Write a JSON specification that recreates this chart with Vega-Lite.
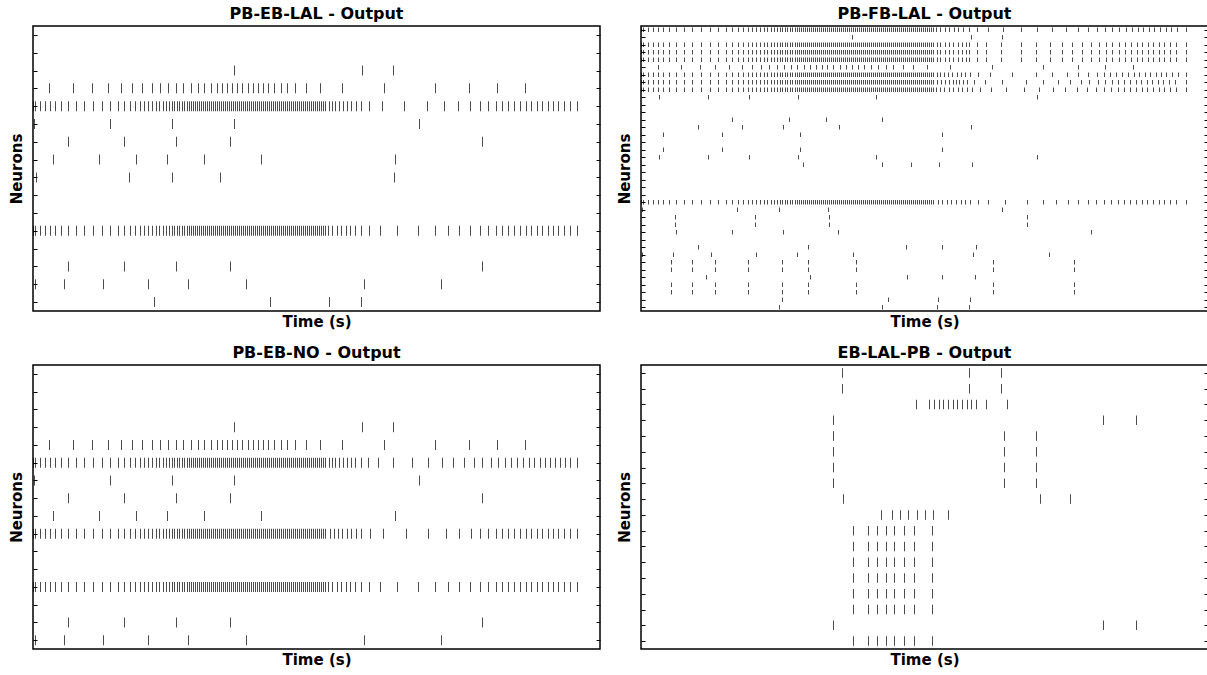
{"$schema":"https://vega.github.io/schema/vega-lite/v6.json","background":"white","padding":{"left":8,"top":5,"right":0,"bottom":0},"columns":2,"spacing":{"column":14,"row":14},
"config":{"view":{"stroke":"#000","strokeWidth":1.5},"font":"DejaVu Sans","title":{"fontSize":16,"fontWeight":"bold","font":"DejaVu Sans","color":"#000","offset":4},"axis":{"titleFont":"DejaVu Sans","titleFontSize":15,"titleFontWeight":"bold","titleColor":"#000","labels":false,"grid":false,"domain":false},"tick":{"color":"#000","thickness":1}},
"datasets":{
"tl":[{"n":2,"t":201},{"n":2,"t":329},{"n":2,"t":360},
{"n":3,"t":16},{"n":3,"t":40},{"n":3,"t":59},{"n":3,"t":75},{"n":3,"t":88},{"n":3,"t":99},{"n":3,"t":109},{"n":3,"t":119},{"n":3,"t":127},{"n":3,"t":135},{"n":3,"t":143},{"n":3,"t":150},{"n":3,"t":158},{"n":3,"t":165},{"n":3,"t":171},{"n":3,"t":178},{"n":3,"t":184},{"n":3,"t":189},{"n":3,"t":194},{"n":3,"t":199},{"n":3,"t":204},{"n":3,"t":209},{"n":3,"t":215},{"n":3,"t":220},{"n":3,"t":225},{"n":3,"t":230},{"n":3,"t":235},{"n":3,"t":241},{"n":3,"t":248},{"n":3,"t":254},{"n":3,"t":262},{"n":3,"t":273},{"n":3,"t":287},{"n":3,"t":309},{"n":3,"t":351},{"n":3,"t":402},{"n":3,"t":436},{"n":3,"t":464},{"n":3,"t":492},
{"n":4,"t":0},{"n":4,"t":2},{"n":4,"t":7},{"n":4,"t":12},{"n":4,"t":17},{"n":4,"t":22},{"n":4,"t":28},{"n":4,"t":35},{"n":4,"t":43},{"n":4,"t":51},{"n":4,"t":60},{"n":4,"t":69},{"n":4,"t":77},{"n":4,"t":85},{"n":4,"t":91},{"n":4,"t":97},{"n":4,"t":102},{"n":4,"t":107},{"n":4,"t":111},{"n":4,"t":115},{"n":4,"t":119},{"n":4,"t":123},{"n":4,"t":126},{"n":4,"t":130},{"n":4,"t":133},{"n":4,"t":136},{"n":4,"t":139},{"n":4,"t":141},{"n":4,"t":144},{"n":4,"t":146},{"n":4,"t":149},{"n":4,"t":151},{"n":4,"t":154},{"n":4,"t":156},{"n":4,"t":158},
{"n":4,"t":160},{"n":4,"t":162},{"n":4,"t":164},{"n":4,"t":166},{"n":4,"t":168},{"n":4,"t":170},{"n":4,"t":172},{"n":4,"t":174},{"n":4,"t":176},{"n":4,"t":178},{"n":4,"t":180},{"n":4,"t":182},{"n":4,"t":184},{"n":4,"t":186},{"n":4,"t":188},{"n":4,"t":190},{"n":4,"t":192},{"n":4,"t":194},{"n":4,"t":196},{"n":4,"t":198},{"n":4,"t":200},{"n":4,"t":202},{"n":4,"t":204},{"n":4,"t":206},{"n":4,"t":208},{"n":4,"t":210},{"n":4,"t":212},{"n":4,"t":214},{"n":4,"t":216},{"n":4,"t":218},{"n":4,"t":220},{"n":4,"t":222},{"n":4,"t":224},{"n":4,"t":226},{"n":4,"t":228},{"n":4,"t":230},{"n":4,"t":232},{"n":4,"t":234},{"n":4,"t":236},{"n":4,"t":238},{"n":4,"t":240},{"n":4,"t":242},{"n":4,"t":244},{"n":4,"t":246},{"n":4,"t":248},{"n":4,"t":250},{"n":4,"t":252},{"n":4,"t":254},{"n":4,"t":256},{"n":4,"t":258},{"n":4,"t":260},{"n":4,"t":262},{"n":4,"t":264},{"n":4,"t":266},{"n":4,"t":268},{"n":4,"t":270},{"n":4,"t":272},{"n":4,"t":274},{"n":4,"t":276},{"n":4,"t":278},{"n":4,"t":280},{"n":4,"t":282},{"n":4,"t":284},{"n":4,"t":286},{"n":4,"t":288},{"n":4,"t":290},{"n":4,"t":292},
{"n":4,"t":296},{"n":4,"t":299},{"n":4,"t":302},{"n":4,"t":306},{"n":4,"t":310},{"n":4,"t":314},{"n":4,"t":318},{"n":4,"t":323},{"n":4,"t":328},{"n":4,"t":336},{"n":4,"t":349},{"n":4,"t":371},{"n":4,"t":394},{"n":4,"t":411},{"n":4,"t":425},{"n":4,"t":437},{"n":4,"t":447},{"n":4,"t":455},{"n":4,"t":463},{"n":4,"t":469},{"n":4,"t":475},{"n":4,"t":481},{"n":4,"t":487},{"n":4,"t":493},{"n":4,"t":498},{"n":4,"t":504},{"n":4,"t":509},{"n":4,"t":515},{"n":4,"t":520},{"n":4,"t":525},{"n":4,"t":531},{"n":4,"t":537},{"n":4,"t":544},
{"n":5,"t":1},{"n":5,"t":77},{"n":5,"t":139},{"n":5,"t":201},{"n":5,"t":386},
{"n":6,"t":35},{"n":6,"t":91},{"n":6,"t":143},{"n":6,"t":197},{"n":6,"t":449},
{"n":7,"t":20},{"n":7,"t":66},{"n":7,"t":103},{"n":7,"t":134},{"n":7,"t":171},{"n":7,"t":228},{"n":7,"t":362},
{"n":8,"t":3},{"n":8,"t":96},{"n":8,"t":139},{"n":8,"t":187},{"n":8,"t":361},
{"n":11,"t":0},{"n":11,"t":2},{"n":11,"t":7},{"n":11,"t":12},{"n":11,"t":17},{"n":11,"t":22},{"n":11,"t":28},{"n":11,"t":35},{"n":11,"t":43},{"n":11,"t":51},{"n":11,"t":60},{"n":11,"t":69},{"n":11,"t":77},{"n":11,"t":85},{"n":11,"t":91},{"n":11,"t":97},{"n":11,"t":102},{"n":11,"t":107},{"n":11,"t":111},{"n":11,"t":115},{"n":11,"t":119},{"n":11,"t":123},{"n":11,"t":126},{"n":11,"t":130},{"n":11,"t":133},{"n":11,"t":136},{"n":11,"t":139},{"n":11,"t":141},{"n":11,"t":144},{"n":11,"t":146},{"n":11,"t":149},{"n":11,"t":151},{"n":11,"t":154},{"n":11,"t":156},{"n":11,"t":158},
{"n":11,"t":160},{"n":11,"t":162},{"n":11,"t":164},{"n":11,"t":166},{"n":11,"t":168},{"n":11,"t":170},{"n":11,"t":172},{"n":11,"t":174},{"n":11,"t":176},{"n":11,"t":178},{"n":11,"t":180},{"n":11,"t":182},{"n":11,"t":184},{"n":11,"t":186},{"n":11,"t":188},{"n":11,"t":190},{"n":11,"t":192},{"n":11,"t":194},{"n":11,"t":196},{"n":11,"t":198},{"n":11,"t":200},{"n":11,"t":202},{"n":11,"t":204},{"n":11,"t":206},{"n":11,"t":208},{"n":11,"t":210},{"n":11,"t":212},{"n":11,"t":214},{"n":11,"t":216},{"n":11,"t":218},{"n":11,"t":220},{"n":11,"t":222},{"n":11,"t":224},{"n":11,"t":226},{"n":11,"t":228},{"n":11,"t":230},{"n":11,"t":232},{"n":11,"t":234},{"n":11,"t":236},{"n":11,"t":238},{"n":11,"t":240},{"n":11,"t":242},{"n":11,"t":244},{"n":11,"t":246},{"n":11,"t":248},{"n":11,"t":250},{"n":11,"t":252},{"n":11,"t":254},{"n":11,"t":256},{"n":11,"t":258},{"n":11,"t":260},{"n":11,"t":262},{"n":11,"t":264},{"n":11,"t":266},{"n":11,"t":268},{"n":11,"t":270},{"n":11,"t":272},{"n":11,"t":274},{"n":11,"t":276},{"n":11,"t":278},{"n":11,"t":280},{"n":11,"t":282},{"n":11,"t":284},{"n":11,"t":286},{"n":11,"t":288},{"n":11,"t":290},{"n":11,"t":292},
{"n":11,"t":295},{"n":11,"t":299},{"n":11,"t":304},{"n":11,"t":308},{"n":11,"t":313},{"n":11,"t":317},{"n":11,"t":322},{"n":11,"t":328},{"n":11,"t":336},{"n":11,"t":347},{"n":11,"t":364},{"n":11,"t":385},{"n":11,"t":402},{"n":11,"t":415},{"n":11,"t":426},{"n":11,"t":437},{"n":11,"t":447},{"n":11,"t":455},{"n":11,"t":463},{"n":11,"t":469},{"n":11,"t":475},{"n":11,"t":481},{"n":11,"t":487},{"n":11,"t":493},{"n":11,"t":498},{"n":11,"t":504},{"n":11,"t":509},{"n":11,"t":515},{"n":11,"t":520},{"n":11,"t":525},{"n":11,"t":531},{"n":11,"t":537},{"n":11,"t":544},
{"n":13,"t":35},{"n":13,"t":91},{"n":13,"t":143},{"n":13,"t":197},{"n":13,"t":449},
{"n":14,"t":2},{"n":14,"t":31},{"n":14,"t":70},{"n":14,"t":115},{"n":14,"t":155},{"n":14,"t":213},{"n":14,"t":331},{"n":14,"t":408},
{"n":15,"t":121},{"n":15,"t":237},{"n":15,"t":296},{"n":15,"t":328}],
"bl":[{"n":3,"t":201},{"n":3,"t":329},{"n":3,"t":360},
{"n":4,"t":16},{"n":4,"t":40},{"n":4,"t":59},{"n":4,"t":75},{"n":4,"t":88},{"n":4,"t":99},{"n":4,"t":109},{"n":4,"t":119},{"n":4,"t":127},{"n":4,"t":135},{"n":4,"t":143},{"n":4,"t":150},{"n":4,"t":158},{"n":4,"t":165},{"n":4,"t":171},{"n":4,"t":178},{"n":4,"t":184},{"n":4,"t":189},{"n":4,"t":194},{"n":4,"t":199},{"n":4,"t":204},{"n":4,"t":209},{"n":4,"t":215},{"n":4,"t":220},{"n":4,"t":225},{"n":4,"t":230},{"n":4,"t":235},{"n":4,"t":241},{"n":4,"t":248},{"n":4,"t":254},{"n":4,"t":262},{"n":4,"t":273},{"n":4,"t":287},{"n":4,"t":309},{"n":4,"t":351},{"n":4,"t":402},{"n":4,"t":436},{"n":4,"t":464},{"n":4,"t":492},
{"n":5,"t":0},{"n":5,"t":2},{"n":5,"t":7},{"n":5,"t":12},{"n":5,"t":17},{"n":5,"t":22},{"n":5,"t":28},{"n":5,"t":35},{"n":5,"t":43},{"n":5,"t":51},{"n":5,"t":60},{"n":5,"t":69},{"n":5,"t":77},{"n":5,"t":85},{"n":5,"t":91},{"n":5,"t":97},{"n":5,"t":102},{"n":5,"t":107},{"n":5,"t":111},{"n":5,"t":115},{"n":5,"t":119},{"n":5,"t":123},{"n":5,"t":126},{"n":5,"t":130},{"n":5,"t":133},{"n":5,"t":136},{"n":5,"t":139},{"n":5,"t":141},{"n":5,"t":144},{"n":5,"t":146},{"n":5,"t":149},{"n":5,"t":151},{"n":5,"t":154},{"n":5,"t":156},{"n":5,"t":158},
{"n":5,"t":160},{"n":5,"t":162},{"n":5,"t":164},{"n":5,"t":166},{"n":5,"t":168},{"n":5,"t":170},{"n":5,"t":172},{"n":5,"t":174},{"n":5,"t":176},{"n":5,"t":178},{"n":5,"t":180},{"n":5,"t":182},{"n":5,"t":184},{"n":5,"t":186},{"n":5,"t":188},{"n":5,"t":190},{"n":5,"t":192},{"n":5,"t":194},{"n":5,"t":196},{"n":5,"t":198},{"n":5,"t":200},{"n":5,"t":202},{"n":5,"t":204},{"n":5,"t":206},{"n":5,"t":208},{"n":5,"t":210},{"n":5,"t":212},{"n":5,"t":214},{"n":5,"t":216},{"n":5,"t":218},{"n":5,"t":220},{"n":5,"t":222},{"n":5,"t":224},{"n":5,"t":226},{"n":5,"t":228},{"n":5,"t":230},{"n":5,"t":232},{"n":5,"t":234},{"n":5,"t":236},{"n":5,"t":238},{"n":5,"t":240},{"n":5,"t":242},{"n":5,"t":244},{"n":5,"t":246},{"n":5,"t":248},{"n":5,"t":250},{"n":5,"t":252},{"n":5,"t":254},{"n":5,"t":256},{"n":5,"t":258},{"n":5,"t":260},{"n":5,"t":262},{"n":5,"t":264},{"n":5,"t":266},{"n":5,"t":268},{"n":5,"t":270},{"n":5,"t":272},{"n":5,"t":274},{"n":5,"t":276},{"n":5,"t":278},{"n":5,"t":280},{"n":5,"t":282},{"n":5,"t":284},{"n":5,"t":286},{"n":5,"t":288},{"n":5,"t":290},{"n":5,"t":292},
{"n":5,"t":296},{"n":5,"t":299},{"n":5,"t":302},{"n":5,"t":306},{"n":5,"t":310},{"n":5,"t":314},{"n":5,"t":318},{"n":5,"t":322},{"n":5,"t":328},{"n":5,"t":335},{"n":5,"t":345},{"n":5,"t":360},{"n":5,"t":379},{"n":5,"t":395},{"n":5,"t":409},{"n":5,"t":420},{"n":5,"t":431},{"n":5,"t":441},{"n":5,"t":449},{"n":5,"t":458},{"n":5,"t":465},{"n":5,"t":472},{"n":5,"t":478},{"n":5,"t":484},{"n":5,"t":490},{"n":5,"t":496},{"n":5,"t":501},{"n":5,"t":507},{"n":5,"t":512},{"n":5,"t":517},{"n":5,"t":522},{"n":5,"t":527},{"n":5,"t":532},{"n":5,"t":537},{"n":5,"t":544},
{"n":6,"t":1},{"n":6,"t":77},{"n":6,"t":139},{"n":6,"t":201},{"n":6,"t":386},
{"n":7,"t":35},{"n":7,"t":91},{"n":7,"t":143},{"n":7,"t":197},{"n":7,"t":449},
{"n":8,"t":20},{"n":8,"t":66},{"n":8,"t":103},{"n":8,"t":134},{"n":8,"t":171},{"n":8,"t":228},{"n":8,"t":362},
{"n":9,"t":0},{"n":9,"t":2},{"n":9,"t":7},{"n":9,"t":12},{"n":9,"t":17},{"n":9,"t":22},{"n":9,"t":28},{"n":9,"t":35},{"n":9,"t":43},{"n":9,"t":51},{"n":9,"t":60},{"n":9,"t":69},{"n":9,"t":77},{"n":9,"t":85},{"n":9,"t":91},{"n":9,"t":97},{"n":9,"t":102},{"n":9,"t":107},{"n":9,"t":111},{"n":9,"t":115},{"n":9,"t":119},{"n":9,"t":123},{"n":9,"t":126},{"n":9,"t":130},{"n":9,"t":133},{"n":9,"t":136},{"n":9,"t":139},{"n":9,"t":141},{"n":9,"t":144},{"n":9,"t":146},{"n":9,"t":149},{"n":9,"t":151},{"n":9,"t":154},{"n":9,"t":156},{"n":9,"t":158},
{"n":9,"t":160},{"n":9,"t":162},{"n":9,"t":164},{"n":9,"t":166},{"n":9,"t":168},{"n":9,"t":170},{"n":9,"t":172},{"n":9,"t":174},{"n":9,"t":176},{"n":9,"t":178},{"n":9,"t":180},{"n":9,"t":182},{"n":9,"t":184},{"n":9,"t":186},{"n":9,"t":188},{"n":9,"t":190},{"n":9,"t":192},{"n":9,"t":194},{"n":9,"t":196},{"n":9,"t":198},{"n":9,"t":200},{"n":9,"t":202},{"n":9,"t":204},{"n":9,"t":206},{"n":9,"t":208},{"n":9,"t":210},{"n":9,"t":212},{"n":9,"t":214},{"n":9,"t":216},{"n":9,"t":218},{"n":9,"t":220},{"n":9,"t":222},{"n":9,"t":224},{"n":9,"t":226},{"n":9,"t":228},{"n":9,"t":230},{"n":9,"t":232},{"n":9,"t":234},{"n":9,"t":236},{"n":9,"t":238},{"n":9,"t":240},{"n":9,"t":242},{"n":9,"t":244},{"n":9,"t":246},{"n":9,"t":248},{"n":9,"t":250},{"n":9,"t":252},{"n":9,"t":254},{"n":9,"t":256},{"n":9,"t":258},{"n":9,"t":260},{"n":9,"t":262},{"n":9,"t":264},{"n":9,"t":266},{"n":9,"t":268},{"n":9,"t":270},{"n":9,"t":272},{"n":9,"t":274},{"n":9,"t":276},{"n":9,"t":278},{"n":9,"t":280},{"n":9,"t":282},{"n":9,"t":284},{"n":9,"t":286},{"n":9,"t":288},{"n":9,"t":290},{"n":9,"t":292},
{"n":9,"t":297},{"n":9,"t":301},{"n":9,"t":305},{"n":9,"t":309},{"n":9,"t":314},{"n":9,"t":318},{"n":9,"t":323},{"n":9,"t":328},{"n":9,"t":337},{"n":9,"t":350},{"n":9,"t":373},{"n":9,"t":395},{"n":9,"t":413},{"n":9,"t":426},{"n":9,"t":438},{"n":9,"t":447},{"n":9,"t":455},{"n":9,"t":463},{"n":9,"t":469},{"n":9,"t":475},{"n":9,"t":481},{"n":9,"t":487},{"n":9,"t":493},{"n":9,"t":498},{"n":9,"t":504},{"n":9,"t":509},{"n":9,"t":515},{"n":9,"t":520},{"n":9,"t":525},{"n":9,"t":531},{"n":9,"t":537},{"n":9,"t":544},
{"n":12,"t":0},{"n":12,"t":2},{"n":12,"t":7},{"n":12,"t":12},{"n":12,"t":17},{"n":12,"t":22},{"n":12,"t":28},{"n":12,"t":35},{"n":12,"t":43},{"n":12,"t":51},{"n":12,"t":60},{"n":12,"t":69},{"n":12,"t":77},{"n":12,"t":85},{"n":12,"t":91},{"n":12,"t":97},{"n":12,"t":102},{"n":12,"t":107},{"n":12,"t":111},{"n":12,"t":115},{"n":12,"t":119},{"n":12,"t":123},{"n":12,"t":126},{"n":12,"t":130},{"n":12,"t":133},{"n":12,"t":136},{"n":12,"t":139},{"n":12,"t":141},{"n":12,"t":144},{"n":12,"t":146},{"n":12,"t":149},{"n":12,"t":151},{"n":12,"t":154},{"n":12,"t":156},{"n":12,"t":158},
{"n":12,"t":160},{"n":12,"t":162},{"n":12,"t":164},{"n":12,"t":166},{"n":12,"t":168},{"n":12,"t":170},{"n":12,"t":172},{"n":12,"t":174},{"n":12,"t":176},{"n":12,"t":178},{"n":12,"t":180},{"n":12,"t":182},{"n":12,"t":184},{"n":12,"t":186},{"n":12,"t":188},{"n":12,"t":190},{"n":12,"t":192},{"n":12,"t":194},{"n":12,"t":196},{"n":12,"t":198},{"n":12,"t":200},{"n":12,"t":202},{"n":12,"t":204},{"n":12,"t":206},{"n":12,"t":208},{"n":12,"t":210},{"n":12,"t":212},{"n":12,"t":214},{"n":12,"t":216},{"n":12,"t":218},{"n":12,"t":220},{"n":12,"t":222},{"n":12,"t":224},{"n":12,"t":226},{"n":12,"t":228},{"n":12,"t":230},{"n":12,"t":232},{"n":12,"t":234},{"n":12,"t":236},{"n":12,"t":238},{"n":12,"t":240},{"n":12,"t":242},{"n":12,"t":244},{"n":12,"t":246},{"n":12,"t":248},{"n":12,"t":250},{"n":12,"t":252},{"n":12,"t":254},{"n":12,"t":256},{"n":12,"t":258},{"n":12,"t":260},{"n":12,"t":262},{"n":12,"t":264},{"n":12,"t":266},{"n":12,"t":268},{"n":12,"t":270},{"n":12,"t":272},{"n":12,"t":274},{"n":12,"t":276},{"n":12,"t":278},{"n":12,"t":280},{"n":12,"t":282},{"n":12,"t":284},{"n":12,"t":286},{"n":12,"t":288},{"n":12,"t":290},{"n":12,"t":292},
{"n":12,"t":295},{"n":12,"t":299},{"n":12,"t":304},{"n":12,"t":308},{"n":12,"t":313},{"n":12,"t":317},{"n":12,"t":322},{"n":12,"t":328},{"n":12,"t":336},{"n":12,"t":347},{"n":12,"t":364},{"n":12,"t":385},{"n":12,"t":402},{"n":12,"t":415},{"n":12,"t":426},{"n":12,"t":437},{"n":12,"t":447},{"n":12,"t":455},{"n":12,"t":463},{"n":12,"t":469},{"n":12,"t":475},{"n":12,"t":481},{"n":12,"t":487},{"n":12,"t":493},{"n":12,"t":498},{"n":12,"t":504},{"n":12,"t":509},{"n":12,"t":515},{"n":12,"t":520},{"n":12,"t":525},{"n":12,"t":531},{"n":12,"t":537},{"n":12,"t":544},
{"n":14,"t":35},{"n":14,"t":91},{"n":14,"t":143},{"n":14,"t":197},{"n":14,"t":449},
{"n":15,"t":2},{"n":15,"t":31},{"n":15,"t":70},{"n":15,"t":115},{"n":15,"t":155},{"n":15,"t":213},{"n":15,"t":331},{"n":15,"t":408}],
"tr":[
{"n":0,"t":0},{"n":0,"t":2},{"n":0,"t":7},{"n":0,"t":12},{"n":0,"t":17},{"n":0,"t":22},{"n":0,"t":28},{"n":0,"t":35},{"n":0,"t":43},{"n":0,"t":51},{"n":0,"t":60},{"n":0,"t":69},{"n":0,"t":77},{"n":0,"t":85},{"n":0,"t":91},{"n":0,"t":97},{"n":0,"t":102},{"n":0,"t":107},{"n":0,"t":111},{"n":0,"t":115},{"n":0,"t":119},{"n":0,"t":123},{"n":0,"t":126},{"n":0,"t":130},{"n":0,"t":133},{"n":0,"t":136},{"n":0,"t":139},{"n":0,"t":141},{"n":0,"t":144},{"n":0,"t":146},{"n":0,"t":149},{"n":0,"t":151},{"n":0,"t":154},{"n":0,"t":156},{"n":0,"t":158},
{"n":0,"t":160},{"n":0,"t":162},{"n":0,"t":164},{"n":0,"t":166},{"n":0,"t":168},{"n":0,"t":170},{"n":0,"t":172},{"n":0,"t":174},{"n":0,"t":176},{"n":0,"t":178},{"n":0,"t":180},{"n":0,"t":182},{"n":0,"t":184},{"n":0,"t":186},{"n":0,"t":188},{"n":0,"t":190},{"n":0,"t":192},{"n":0,"t":194},{"n":0,"t":196},{"n":0,"t":198},{"n":0,"t":200},{"n":0,"t":202},{"n":0,"t":204},{"n":0,"t":206},{"n":0,"t":208},{"n":0,"t":210},{"n":0,"t":212},{"n":0,"t":214},{"n":0,"t":216},{"n":0,"t":218},{"n":0,"t":220},{"n":0,"t":222},{"n":0,"t":224},{"n":0,"t":226},{"n":0,"t":228},{"n":0,"t":230},{"n":0,"t":232},{"n":0,"t":234},{"n":0,"t":236},{"n":0,"t":238},{"n":0,"t":240},{"n":0,"t":242},{"n":0,"t":244},{"n":0,"t":246},{"n":0,"t":248},{"n":0,"t":250},{"n":0,"t":252},{"n":0,"t":254},{"n":0,"t":256},{"n":0,"t":258},{"n":0,"t":260},{"n":0,"t":262},{"n":0,"t":264},{"n":0,"t":266},{"n":0,"t":268},{"n":0,"t":270},{"n":0,"t":272},{"n":0,"t":274},{"n":0,"t":276},{"n":0,"t":278},{"n":0,"t":280},{"n":0,"t":282},{"n":0,"t":284},{"n":0,"t":286},{"n":0,"t":288},{"n":0,"t":290},{"n":0,"t":292},
{"n":0,"t":295},{"n":0,"t":299},{"n":0,"t":304},{"n":0,"t":308},{"n":0,"t":313},{"n":0,"t":317},{"n":0,"t":322},{"n":0,"t":328},{"n":0,"t":336},{"n":0,"t":347},{"n":0,"t":362},{"n":0,"t":380},{"n":0,"t":396},{"n":0,"t":411},{"n":0,"t":425},{"n":0,"t":437},{"n":0,"t":447},{"n":0,"t":456},{"n":0,"t":464},{"n":0,"t":471},{"n":0,"t":478},{"n":0,"t":485},{"n":0,"t":491},{"n":0,"t":497},{"n":0,"t":502},{"n":0,"t":508},{"n":0,"t":513},{"n":0,"t":519},{"n":0,"t":525},{"n":0,"t":530},{"n":0,"t":536},{"n":0,"t":545},
{"n":1,"t":211},{"n":1,"t":330},{"n":1,"t":361},
{"n":2,"t":0},{"n":2,"t":2},{"n":2,"t":7},{"n":2,"t":12},{"n":2,"t":17},{"n":2,"t":22},{"n":2,"t":28},{"n":2,"t":35},{"n":2,"t":43},{"n":2,"t":51},{"n":2,"t":60},{"n":2,"t":69},{"n":2,"t":77},{"n":2,"t":85},{"n":2,"t":91},{"n":2,"t":97},{"n":2,"t":102},{"n":2,"t":107},{"n":2,"t":111},{"n":2,"t":115},{"n":2,"t":119},{"n":2,"t":123},{"n":2,"t":126},{"n":2,"t":130},{"n":2,"t":133},{"n":2,"t":136},{"n":2,"t":139},{"n":2,"t":141},{"n":2,"t":144},{"n":2,"t":146},{"n":2,"t":149},{"n":2,"t":151},{"n":2,"t":154},{"n":2,"t":156},{"n":2,"t":158},
{"n":2,"t":160},{"n":2,"t":162},{"n":2,"t":164},{"n":2,"t":166},{"n":2,"t":168},{"n":2,"t":170},{"n":2,"t":172},{"n":2,"t":174},{"n":2,"t":176},{"n":2,"t":178},{"n":2,"t":180},{"n":2,"t":182},{"n":2,"t":184},{"n":2,"t":186},{"n":2,"t":188},{"n":2,"t":190},{"n":2,"t":192},{"n":2,"t":194},{"n":2,"t":196},{"n":2,"t":198},{"n":2,"t":200},{"n":2,"t":202},{"n":2,"t":204},{"n":2,"t":206},{"n":2,"t":208},{"n":2,"t":210},{"n":2,"t":212},{"n":2,"t":214},{"n":2,"t":216},{"n":2,"t":218},{"n":2,"t":220},{"n":2,"t":222},{"n":2,"t":224},{"n":2,"t":226},{"n":2,"t":228},{"n":2,"t":230},{"n":2,"t":232},{"n":2,"t":234},{"n":2,"t":236},{"n":2,"t":238},{"n":2,"t":240},{"n":2,"t":242},{"n":2,"t":244},{"n":2,"t":246},{"n":2,"t":248},{"n":2,"t":250},{"n":2,"t":252},{"n":2,"t":254},{"n":2,"t":256},{"n":2,"t":258},{"n":2,"t":260},{"n":2,"t":262},{"n":2,"t":264},{"n":2,"t":266},{"n":2,"t":268},{"n":2,"t":270},{"n":2,"t":272},{"n":2,"t":274},{"n":2,"t":276},{"n":2,"t":278},{"n":2,"t":280},{"n":2,"t":282},{"n":2,"t":284},{"n":2,"t":286},{"n":2,"t":288},{"n":2,"t":290},{"n":2,"t":292},
{"n":2,"t":296},{"n":2,"t":299},{"n":2,"t":304},{"n":2,"t":308},{"n":2,"t":312},{"n":2,"t":317},{"n":2,"t":321},{"n":2,"t":325},{"n":2,"t":328},{"n":2,"t":336},{"n":2,"t":345},{"n":2,"t":360},{"n":2,"t":380},{"n":2,"t":395},{"n":2,"t":409},{"n":2,"t":421},{"n":2,"t":431},{"n":2,"t":441},{"n":2,"t":450},{"n":2,"t":458},{"n":2,"t":465},{"n":2,"t":471},{"n":2,"t":478},{"n":2,"t":484},{"n":2,"t":490},{"n":2,"t":496},{"n":2,"t":501},{"n":2,"t":507},{"n":2,"t":512},{"n":2,"t":518},{"n":2,"t":523},{"n":2,"t":529},{"n":2,"t":535},{"n":2,"t":545},
{"n":3,"t":0},{"n":3,"t":2},{"n":3,"t":7},{"n":3,"t":12},{"n":3,"t":17},{"n":3,"t":22},{"n":3,"t":28},{"n":3,"t":35},{"n":3,"t":43},{"n":3,"t":51},{"n":3,"t":60},{"n":3,"t":69},{"n":3,"t":77},{"n":3,"t":85},{"n":3,"t":91},{"n":3,"t":97},{"n":3,"t":102},{"n":3,"t":107},{"n":3,"t":111},{"n":3,"t":115},{"n":3,"t":119},{"n":3,"t":123},{"n":3,"t":126},{"n":3,"t":130},{"n":3,"t":133},{"n":3,"t":136},{"n":3,"t":139},{"n":3,"t":141},{"n":3,"t":144},{"n":3,"t":146},{"n":3,"t":149},{"n":3,"t":151},{"n":3,"t":154},{"n":3,"t":156},{"n":3,"t":158},
{"n":3,"t":160},{"n":3,"t":162},{"n":3,"t":164},{"n":3,"t":166},{"n":3,"t":168},{"n":3,"t":170},{"n":3,"t":172},{"n":3,"t":174},{"n":3,"t":176},{"n":3,"t":178},{"n":3,"t":180},{"n":3,"t":182},{"n":3,"t":184},{"n":3,"t":186},{"n":3,"t":188},{"n":3,"t":190},{"n":3,"t":192},{"n":3,"t":194},{"n":3,"t":196},{"n":3,"t":198},{"n":3,"t":200},{"n":3,"t":202},{"n":3,"t":204},{"n":3,"t":206},{"n":3,"t":208},{"n":3,"t":210},{"n":3,"t":212},{"n":3,"t":214},{"n":3,"t":216},{"n":3,"t":218},{"n":3,"t":220},{"n":3,"t":222},{"n":3,"t":224},{"n":3,"t":226},{"n":3,"t":228},{"n":3,"t":230},{"n":3,"t":232},{"n":3,"t":234},{"n":3,"t":236},{"n":3,"t":238},{"n":3,"t":240},{"n":3,"t":242},{"n":3,"t":244},{"n":3,"t":246},{"n":3,"t":248},{"n":3,"t":250},{"n":3,"t":252},{"n":3,"t":254},{"n":3,"t":256},{"n":3,"t":258},{"n":3,"t":260},{"n":3,"t":262},{"n":3,"t":264},{"n":3,"t":266},{"n":3,"t":268},{"n":3,"t":270},{"n":3,"t":272},{"n":3,"t":274},{"n":3,"t":276},{"n":3,"t":278},{"n":3,"t":280},{"n":3,"t":282},{"n":3,"t":284},{"n":3,"t":286},{"n":3,"t":288},{"n":3,"t":290},{"n":3,"t":292},
{"n":3,"t":296},{"n":3,"t":299},{"n":3,"t":304},{"n":3,"t":308},{"n":3,"t":312},{"n":3,"t":317},{"n":3,"t":321},{"n":3,"t":325},{"n":3,"t":328},{"n":3,"t":336},{"n":3,"t":345},{"n":3,"t":360},{"n":3,"t":380},{"n":3,"t":395},{"n":3,"t":409},{"n":3,"t":421},{"n":3,"t":431},{"n":3,"t":441},{"n":3,"t":450},{"n":3,"t":458},{"n":3,"t":465},{"n":3,"t":471},{"n":3,"t":478},{"n":3,"t":484},{"n":3,"t":490},{"n":3,"t":496},{"n":3,"t":501},{"n":3,"t":507},{"n":3,"t":512},{"n":3,"t":518},{"n":3,"t":523},{"n":3,"t":529},{"n":3,"t":535},{"n":3,"t":545},
{"n":4,"t":0},{"n":4,"t":2},{"n":4,"t":7},{"n":4,"t":12},{"n":4,"t":17},{"n":4,"t":22},{"n":4,"t":28},{"n":4,"t":35},{"n":4,"t":43},{"n":4,"t":51},{"n":4,"t":60},{"n":4,"t":69},{"n":4,"t":77},{"n":4,"t":85},{"n":4,"t":91},{"n":4,"t":97},{"n":4,"t":102},{"n":4,"t":107},{"n":4,"t":111},{"n":4,"t":115},{"n":4,"t":119},{"n":4,"t":123},{"n":4,"t":126},{"n":4,"t":130},{"n":4,"t":133},{"n":4,"t":136},{"n":4,"t":139},{"n":4,"t":141},{"n":4,"t":144},{"n":4,"t":146},{"n":4,"t":149},{"n":4,"t":151},{"n":4,"t":154},{"n":4,"t":156},{"n":4,"t":158},
{"n":4,"t":160},{"n":4,"t":162},{"n":4,"t":164},{"n":4,"t":166},{"n":4,"t":168},{"n":4,"t":170},{"n":4,"t":172},{"n":4,"t":174},{"n":4,"t":176},{"n":4,"t":178},{"n":4,"t":180},{"n":4,"t":182},{"n":4,"t":184},{"n":4,"t":186},{"n":4,"t":188},{"n":4,"t":190},{"n":4,"t":192},{"n":4,"t":194},{"n":4,"t":196},{"n":4,"t":198},{"n":4,"t":200},{"n":4,"t":202},{"n":4,"t":204},{"n":4,"t":206},{"n":4,"t":208},{"n":4,"t":210},{"n":4,"t":212},{"n":4,"t":214},{"n":4,"t":216},{"n":4,"t":218},{"n":4,"t":220},{"n":4,"t":222},{"n":4,"t":224},{"n":4,"t":226},{"n":4,"t":228},{"n":4,"t":230},{"n":4,"t":232},{"n":4,"t":234},{"n":4,"t":236},{"n":4,"t":238},{"n":4,"t":240},{"n":4,"t":242},{"n":4,"t":244},{"n":4,"t":246},{"n":4,"t":248},{"n":4,"t":250},{"n":4,"t":252},{"n":4,"t":254},{"n":4,"t":256},{"n":4,"t":258},{"n":4,"t":260},{"n":4,"t":262},{"n":4,"t":264},{"n":4,"t":266},{"n":4,"t":268},{"n":4,"t":270},{"n":4,"t":272},{"n":4,"t":274},{"n":4,"t":276},{"n":4,"t":278},{"n":4,"t":280},{"n":4,"t":282},{"n":4,"t":284},{"n":4,"t":286},{"n":4,"t":288},{"n":4,"t":290},{"n":4,"t":292},
{"n":4,"t":296},{"n":4,"t":299},{"n":4,"t":304},{"n":4,"t":308},{"n":4,"t":312},{"n":4,"t":317},{"n":4,"t":321},{"n":4,"t":325},{"n":4,"t":328},{"n":4,"t":336},{"n":4,"t":345},{"n":4,"t":360},{"n":4,"t":380},{"n":4,"t":395},{"n":4,"t":409},{"n":4,"t":421},{"n":4,"t":431},{"n":4,"t":441},{"n":4,"t":450},{"n":4,"t":458},{"n":4,"t":465},{"n":4,"t":471},{"n":4,"t":478},{"n":4,"t":484},{"n":4,"t":490},{"n":4,"t":496},{"n":4,"t":501},{"n":4,"t":507},{"n":4,"t":512},{"n":4,"t":518},{"n":4,"t":523},{"n":4,"t":529},{"n":4,"t":535},{"n":4,"t":545},
{"n":5,"t":17},{"n":5,"t":40},{"n":5,"t":59},{"n":5,"t":74},{"n":5,"t":88},{"n":5,"t":101},{"n":5,"t":111},{"n":5,"t":120},{"n":5,"t":128},{"n":5,"t":136},{"n":5,"t":143},{"n":5,"t":150},{"n":5,"t":156},{"n":5,"t":163},{"n":5,"t":169},{"n":5,"t":175},{"n":5,"t":181},{"n":5,"t":186},{"n":5,"t":192},{"n":5,"t":199},{"n":5,"t":205},{"n":5,"t":211},{"n":5,"t":217},{"n":5,"t":223},{"n":5,"t":230},{"n":5,"t":237},{"n":5,"t":245},{"n":5,"t":252},{"n":5,"t":262},{"n":5,"t":272},{"n":5,"t":286},{"n":5,"t":309},{"n":5,"t":351},{"n":5,"t":402},{"n":5,"t":437},{"n":5,"t":464},{"n":5,"t":492},
{"n":6,"t":0},{"n":6,"t":2},{"n":6,"t":7},{"n":6,"t":12},{"n":6,"t":17},{"n":6,"t":22},{"n":6,"t":28},{"n":6,"t":35},{"n":6,"t":43},{"n":6,"t":51},{"n":6,"t":60},{"n":6,"t":69},{"n":6,"t":77},{"n":6,"t":85},{"n":6,"t":91},{"n":6,"t":97},{"n":6,"t":102},{"n":6,"t":107},{"n":6,"t":111},{"n":6,"t":115},{"n":6,"t":119},{"n":6,"t":123},{"n":6,"t":126},{"n":6,"t":130},{"n":6,"t":133},{"n":6,"t":136},{"n":6,"t":139},{"n":6,"t":141},{"n":6,"t":144},{"n":6,"t":146},{"n":6,"t":149},{"n":6,"t":151},{"n":6,"t":154},{"n":6,"t":156},{"n":6,"t":158},
{"n":6,"t":160},{"n":6,"t":162},{"n":6,"t":164},{"n":6,"t":166},{"n":6,"t":168},{"n":6,"t":170},{"n":6,"t":172},{"n":6,"t":174},{"n":6,"t":176},{"n":6,"t":178},{"n":6,"t":180},{"n":6,"t":182},{"n":6,"t":184},{"n":6,"t":186},{"n":6,"t":188},{"n":6,"t":190},{"n":6,"t":192},{"n":6,"t":194},{"n":6,"t":196},{"n":6,"t":198},{"n":6,"t":200},{"n":6,"t":202},{"n":6,"t":204},{"n":6,"t":206},{"n":6,"t":208},{"n":6,"t":210},{"n":6,"t":212},{"n":6,"t":214},{"n":6,"t":216},{"n":6,"t":218},{"n":6,"t":220},{"n":6,"t":222},{"n":6,"t":224},{"n":6,"t":226},{"n":6,"t":228},{"n":6,"t":230},{"n":6,"t":232},{"n":6,"t":234},{"n":6,"t":236},{"n":6,"t":238},{"n":6,"t":240},{"n":6,"t":242},{"n":6,"t":244},{"n":6,"t":246},{"n":6,"t":248},{"n":6,"t":250},{"n":6,"t":252},{"n":6,"t":254},{"n":6,"t":256},{"n":6,"t":258},{"n":6,"t":260},{"n":6,"t":262},{"n":6,"t":264},{"n":6,"t":266},{"n":6,"t":268},{"n":6,"t":270},{"n":6,"t":272},{"n":6,"t":274},{"n":6,"t":276},{"n":6,"t":278},{"n":6,"t":280},{"n":6,"t":282},{"n":6,"t":284},{"n":6,"t":286},{"n":6,"t":288},{"n":6,"t":290},{"n":6,"t":292},
{"n":6,"t":296},{"n":6,"t":299},{"n":6,"t":303},{"n":6,"t":307},{"n":6,"t":311},{"n":6,"t":316},{"n":6,"t":320},{"n":6,"t":324},{"n":6,"t":329},{"n":6,"t":337},{"n":6,"t":349},{"n":6,"t":371},{"n":6,"t":395},{"n":6,"t":411},{"n":6,"t":426},{"n":6,"t":437},{"n":6,"t":447},{"n":6,"t":456},{"n":6,"t":463},{"n":6,"t":469},{"n":6,"t":475},{"n":6,"t":481},{"n":6,"t":487},{"n":6,"t":493},{"n":6,"t":498},{"n":6,"t":504},{"n":6,"t":509},{"n":6,"t":515},{"n":6,"t":520},{"n":6,"t":525},{"n":6,"t":531},{"n":6,"t":537},{"n":6,"t":545},
{"n":7,"t":0},{"n":7,"t":2},{"n":7,"t":7},{"n":7,"t":12},{"n":7,"t":17},{"n":7,"t":22},{"n":7,"t":28},{"n":7,"t":35},{"n":7,"t":43},{"n":7,"t":51},{"n":7,"t":60},{"n":7,"t":69},{"n":7,"t":77},{"n":7,"t":85},{"n":7,"t":91},{"n":7,"t":97},{"n":7,"t":102},{"n":7,"t":107},{"n":7,"t":111},{"n":7,"t":115},{"n":7,"t":119},{"n":7,"t":123},{"n":7,"t":126},{"n":7,"t":130},{"n":7,"t":133},{"n":7,"t":136},{"n":7,"t":139},{"n":7,"t":141},{"n":7,"t":144},{"n":7,"t":146},{"n":7,"t":149},{"n":7,"t":151},{"n":7,"t":154},{"n":7,"t":156},{"n":7,"t":158},
{"n":7,"t":160},{"n":7,"t":162},{"n":7,"t":164},{"n":7,"t":166},{"n":7,"t":168},{"n":7,"t":170},{"n":7,"t":172},{"n":7,"t":174},{"n":7,"t":176},{"n":7,"t":178},{"n":7,"t":180},{"n":7,"t":182},{"n":7,"t":184},{"n":7,"t":186},{"n":7,"t":188},{"n":7,"t":190},{"n":7,"t":192},{"n":7,"t":194},{"n":7,"t":196},{"n":7,"t":198},{"n":7,"t":200},{"n":7,"t":202},{"n":7,"t":204},{"n":7,"t":206},{"n":7,"t":208},{"n":7,"t":210},{"n":7,"t":212},{"n":7,"t":214},{"n":7,"t":216},{"n":7,"t":218},{"n":7,"t":220},{"n":7,"t":222},{"n":7,"t":224},{"n":7,"t":226},{"n":7,"t":228},{"n":7,"t":230},{"n":7,"t":232},{"n":7,"t":234},{"n":7,"t":236},{"n":7,"t":238},{"n":7,"t":240},{"n":7,"t":242},{"n":7,"t":244},{"n":7,"t":246},{"n":7,"t":248},{"n":7,"t":250},{"n":7,"t":252},{"n":7,"t":254},{"n":7,"t":256},{"n":7,"t":258},{"n":7,"t":260},{"n":7,"t":262},{"n":7,"t":264},{"n":7,"t":266},{"n":7,"t":268},{"n":7,"t":270},{"n":7,"t":272},{"n":7,"t":274},{"n":7,"t":276},{"n":7,"t":278},{"n":7,"t":280},{"n":7,"t":282},{"n":7,"t":284},{"n":7,"t":286},{"n":7,"t":288},{"n":7,"t":290},{"n":7,"t":292},
{"n":7,"t":296},{"n":7,"t":300},{"n":7,"t":304},{"n":7,"t":308},{"n":7,"t":312},{"n":7,"t":315},{"n":7,"t":318},{"n":7,"t":322},{"n":7,"t":326},{"n":7,"t":333},{"n":7,"t":344},{"n":7,"t":361},{"n":7,"t":385},{"n":7,"t":402},{"n":7,"t":417},{"n":7,"t":429},{"n":7,"t":440},{"n":7,"t":448},{"n":7,"t":457},{"n":7,"t":464},{"n":7,"t":471},{"n":7,"t":477},{"n":7,"t":483},{"n":7,"t":489},{"n":7,"t":495},{"n":7,"t":500},{"n":7,"t":506},{"n":7,"t":511},{"n":7,"t":517},{"n":7,"t":522},{"n":7,"t":528},{"n":7,"t":534},{"n":7,"t":545},
{"n":8,"t":0},{"n":8,"t":2},{"n":8,"t":7},{"n":8,"t":12},{"n":8,"t":17},{"n":8,"t":22},{"n":8,"t":28},{"n":8,"t":35},{"n":8,"t":43},{"n":8,"t":51},{"n":8,"t":60},{"n":8,"t":69},{"n":8,"t":77},{"n":8,"t":85},{"n":8,"t":91},{"n":8,"t":97},{"n":8,"t":102},{"n":8,"t":107},{"n":8,"t":111},{"n":8,"t":115},{"n":8,"t":119},{"n":8,"t":123},{"n":8,"t":126},{"n":8,"t":130},{"n":8,"t":133},{"n":8,"t":136},{"n":8,"t":139},{"n":8,"t":141},{"n":8,"t":144},{"n":8,"t":146},{"n":8,"t":149},{"n":8,"t":151},{"n":8,"t":154},{"n":8,"t":156},{"n":8,"t":158},
{"n":8,"t":160},{"n":8,"t":162},{"n":8,"t":164},{"n":8,"t":166},{"n":8,"t":168},{"n":8,"t":170},{"n":8,"t":172},{"n":8,"t":174},{"n":8,"t":176},{"n":8,"t":178},{"n":8,"t":180},{"n":8,"t":182},{"n":8,"t":184},{"n":8,"t":186},{"n":8,"t":188},{"n":8,"t":190},{"n":8,"t":192},{"n":8,"t":194},{"n":8,"t":196},{"n":8,"t":198},{"n":8,"t":200},{"n":8,"t":202},{"n":8,"t":204},{"n":8,"t":206},{"n":8,"t":208},{"n":8,"t":210},{"n":8,"t":212},{"n":8,"t":214},{"n":8,"t":216},{"n":8,"t":218},{"n":8,"t":220},{"n":8,"t":222},{"n":8,"t":224},{"n":8,"t":226},{"n":8,"t":228},{"n":8,"t":230},{"n":8,"t":232},{"n":8,"t":234},{"n":8,"t":236},{"n":8,"t":238},{"n":8,"t":240},{"n":8,"t":242},{"n":8,"t":244},{"n":8,"t":246},{"n":8,"t":248},{"n":8,"t":250},{"n":8,"t":252},{"n":8,"t":254},{"n":8,"t":256},{"n":8,"t":258},{"n":8,"t":260},{"n":8,"t":262},{"n":8,"t":264},{"n":8,"t":266},{"n":8,"t":268},{"n":8,"t":270},{"n":8,"t":272},{"n":8,"t":274},{"n":8,"t":276},{"n":8,"t":278},{"n":8,"t":280},{"n":8,"t":282},{"n":8,"t":284},{"n":8,"t":286},{"n":8,"t":288},{"n":8,"t":290},{"n":8,"t":292},
{"n":8,"t":295},{"n":8,"t":299},{"n":8,"t":303},{"n":8,"t":308},{"n":8,"t":312},{"n":8,"t":317},{"n":8,"t":321},{"n":8,"t":326},{"n":8,"t":331},{"n":8,"t":339},{"n":8,"t":350},{"n":8,"t":365},{"n":8,"t":383},{"n":8,"t":398},{"n":8,"t":412},{"n":8,"t":424},{"n":8,"t":436},{"n":8,"t":446},{"n":8,"t":455},{"n":8,"t":463},{"n":8,"t":470},{"n":8,"t":477},{"n":8,"t":483},{"n":8,"t":489},{"n":8,"t":495},{"n":8,"t":501},{"n":8,"t":506},{"n":8,"t":512},{"n":8,"t":518},{"n":8,"t":523},{"n":8,"t":529},{"n":8,"t":535},{"n":8,"t":545},
{"n":9,"t":18},{"n":9,"t":67},{"n":9,"t":108},{"n":9,"t":157},{"n":9,"t":235},{"n":9,"t":396},
{"n":12,"t":91},{"n":12,"t":148},{"n":12,"t":185},{"n":12,"t":241},
{"n":13,"t":57},{"n":13,"t":101},{"n":13,"t":142},{"n":13,"t":198},{"n":13,"t":330},
{"n":14,"t":22},{"n":14,"t":81},{"n":14,"t":159},{"n":14,"t":301},
{"n":16,"t":22},{"n":16,"t":81},{"n":16,"t":159},{"n":16,"t":301},
{"n":17,"t":18},{"n":17,"t":67},{"n":17,"t":108},{"n":17,"t":157},{"n":17,"t":235},{"n":17,"t":396},
{"n":18,"t":162},{"n":18,"t":241},{"n":18,"t":270},{"n":18,"t":298},{"n":18,"t":331},
{"n":23,"t":0},{"n":23,"t":2},{"n":23,"t":7},{"n":23,"t":12},{"n":23,"t":17},{"n":23,"t":22},{"n":23,"t":28},{"n":23,"t":35},{"n":23,"t":43},{"n":23,"t":51},{"n":23,"t":60},{"n":23,"t":69},{"n":23,"t":77},{"n":23,"t":85},{"n":23,"t":91},{"n":23,"t":97},{"n":23,"t":102},{"n":23,"t":107},{"n":23,"t":111},{"n":23,"t":115},{"n":23,"t":119},{"n":23,"t":123},{"n":23,"t":126},{"n":23,"t":130},{"n":23,"t":133},{"n":23,"t":136},{"n":23,"t":139},{"n":23,"t":141},{"n":23,"t":144},{"n":23,"t":146},{"n":23,"t":149},{"n":23,"t":151},{"n":23,"t":154},{"n":23,"t":156},{"n":23,"t":158},
{"n":23,"t":160},{"n":23,"t":162},{"n":23,"t":164},{"n":23,"t":166},{"n":23,"t":168},{"n":23,"t":170},{"n":23,"t":172},{"n":23,"t":174},{"n":23,"t":176},{"n":23,"t":178},{"n":23,"t":180},{"n":23,"t":182},{"n":23,"t":184},{"n":23,"t":186},{"n":23,"t":188},{"n":23,"t":190},{"n":23,"t":192},{"n":23,"t":194},{"n":23,"t":196},{"n":23,"t":198},{"n":23,"t":200},{"n":23,"t":202},{"n":23,"t":204},{"n":23,"t":206},{"n":23,"t":208},{"n":23,"t":210},{"n":23,"t":212},{"n":23,"t":214},{"n":23,"t":216},{"n":23,"t":218},{"n":23,"t":220},{"n":23,"t":222},{"n":23,"t":224},{"n":23,"t":226},{"n":23,"t":228},{"n":23,"t":230},{"n":23,"t":232},{"n":23,"t":234},{"n":23,"t":236},{"n":23,"t":238},{"n":23,"t":240},{"n":23,"t":242},{"n":23,"t":244},{"n":23,"t":246},{"n":23,"t":248},{"n":23,"t":250},{"n":23,"t":252},{"n":23,"t":254},{"n":23,"t":256},{"n":23,"t":258},{"n":23,"t":260},{"n":23,"t":262},{"n":23,"t":264},{"n":23,"t":266},{"n":23,"t":268},{"n":23,"t":270},{"n":23,"t":272},{"n":23,"t":274},{"n":23,"t":276},{"n":23,"t":278},{"n":23,"t":280},{"n":23,"t":282},{"n":23,"t":284},{"n":23,"t":286},{"n":23,"t":288},{"n":23,"t":290},{"n":23,"t":292},
{"n":23,"t":297},{"n":23,"t":301},{"n":23,"t":306},{"n":23,"t":310},{"n":23,"t":315},{"n":23,"t":320},{"n":23,"t":324},{"n":23,"t":329},{"n":23,"t":337},{"n":23,"t":347},{"n":23,"t":364},{"n":23,"t":386},{"n":23,"t":402},{"n":23,"t":415},{"n":23,"t":427},{"n":23,"t":437},{"n":23,"t":447},{"n":23,"t":455},{"n":23,"t":463},{"n":23,"t":470},{"n":23,"t":477},{"n":23,"t":483},{"n":23,"t":489},{"n":23,"t":495},{"n":23,"t":501},{"n":23,"t":506},{"n":23,"t":512},{"n":23,"t":518},{"n":23,"t":523},{"n":23,"t":529},{"n":23,"t":535},{"n":23,"t":545},
{"n":24,"t":1},{"n":24,"t":96},{"n":24,"t":138},{"n":24,"t":187},{"n":24,"t":361},
{"n":25,"t":34},{"n":25,"t":114},{"n":25,"t":188},{"n":25,"t":386},
{"n":26,"t":34},{"n":26,"t":114},{"n":26,"t":188},{"n":26,"t":386},
{"n":27,"t":35},{"n":27,"t":91},{"n":27,"t":142},{"n":27,"t":197},{"n":27,"t":450},
{"n":29,"t":57},{"n":29,"t":167},{"n":29,"t":265},{"n":29,"t":301},{"n":29,"t":335},
{"n":30,"t":1},{"n":30,"t":32},{"n":30,"t":70},{"n":30,"t":115},{"n":30,"t":156},{"n":30,"t":212},{"n":30,"t":332},{"n":30,"t":408},
{"n":31,"t":30},{"n":31,"t":51},{"n":31,"t":74},{"n":31,"t":107},{"n":31,"t":141},{"n":31,"t":167},{"n":31,"t":215},{"n":31,"t":352},{"n":31,"t":433},
{"n":32,"t":30},{"n":32,"t":51},{"n":32,"t":74},{"n":32,"t":107},{"n":32,"t":141},{"n":32,"t":167},{"n":32,"t":215},{"n":32,"t":352},{"n":32,"t":433},
{"n":33,"t":65},{"n":33,"t":169},{"n":33,"t":266},{"n":33,"t":301},{"n":33,"t":334},
{"n":34,"t":30},{"n":34,"t":51},{"n":34,"t":74},{"n":34,"t":107},{"n":34,"t":141},{"n":34,"t":167},{"n":34,"t":215},{"n":34,"t":352},{"n":34,"t":433},
{"n":35,"t":30},{"n":35,"t":51},{"n":35,"t":74},{"n":35,"t":107},{"n":35,"t":141},{"n":35,"t":167},{"n":35,"t":215},{"n":35,"t":352},{"n":35,"t":433},
{"n":36,"t":141},{"n":36,"t":247},{"n":36,"t":297},{"n":36,"t":329},
{"n":37,"t":138},{"n":37,"t":241},{"n":37,"t":296},{"n":37,"t":328}],
"br":[{"n":0,"t":201},{"n":0,"t":328},{"n":0,"t":360},
{"n":1,"t":201},{"n":1,"t":328},{"n":1,"t":360},
{"n":2,"t":275},{"n":2,"t":288},{"n":2,"t":293},{"n":2,"t":298},{"n":2,"t":302},{"n":2,"t":307},{"n":2,"t":312},{"n":2,"t":316},{"n":2,"t":321},{"n":2,"t":326},{"n":2,"t":330},{"n":2,"t":335},{"n":2,"t":345},{"n":2,"t":366},
{"n":3,"t":192},{"n":3,"t":462},{"n":3,"t":495},
{"n":4,"t":192},{"n":4,"t":363},{"n":4,"t":395},
{"n":5,"t":192},{"n":5,"t":363},{"n":5,"t":395},
{"n":6,"t":192},{"n":6,"t":363},{"n":6,"t":395},
{"n":7,"t":192},{"n":7,"t":363},{"n":7,"t":395},
{"n":8,"t":202},{"n":8,"t":399},{"n":8,"t":429},
{"n":9,"t":240},{"n":9,"t":251},{"n":9,"t":259},{"n":9,"t":267},{"n":9,"t":276},{"n":9,"t":284},{"n":9,"t":292},{"n":9,"t":307},
{"n":10,"t":212},{"n":10,"t":227},{"n":10,"t":236},{"n":10,"t":245},{"n":10,"t":253},{"n":10,"t":263},{"n":10,"t":273},{"n":10,"t":291},
{"n":11,"t":212},{"n":11,"t":227},{"n":11,"t":236},{"n":11,"t":245},{"n":11,"t":253},{"n":11,"t":263},{"n":11,"t":273},{"n":11,"t":291},
{"n":12,"t":212},{"n":12,"t":227},{"n":12,"t":236},{"n":12,"t":245},{"n":12,"t":253},{"n":12,"t":263},{"n":12,"t":273},{"n":12,"t":291},
{"n":13,"t":212},{"n":13,"t":227},{"n":13,"t":236},{"n":13,"t":245},{"n":13,"t":253},{"n":13,"t":263},{"n":13,"t":273},{"n":13,"t":291},
{"n":14,"t":212},{"n":14,"t":227},{"n":14,"t":236},{"n":14,"t":245},{"n":14,"t":253},{"n":14,"t":263},{"n":14,"t":273},{"n":14,"t":291},
{"n":15,"t":212},{"n":15,"t":227},{"n":15,"t":236},{"n":15,"t":245},{"n":15,"t":253},{"n":15,"t":263},{"n":15,"t":273},{"n":15,"t":291},
{"n":16,"t":192},{"n":16,"t":462},{"n":16,"t":495},
{"n":17,"t":212},{"n":17,"t":227},{"n":17,"t":236},{"n":17,"t":245},{"n":17,"t":253},{"n":17,"t":263},{"n":17,"t":273},{"n":17,"t":291}]
},
"concat":[
{"width":567,"height":285,"title":"PB-EB-LAL - Output","data":{"name":"tl"},
"layer":[
{"mark":{"type":"tick","orient":"vertical","size":10,"thickness":1,"color":"#000"},
"encoding":{"x":{"field":"t","type":"quantitative","scale":{"domain":[-0.5,566.5],"nice":false,"zero":false},"axis":{"title":"Time (s)","ticks":false,"titlePadding":3}},
"y":{"field":"n","type":"quantitative","scale":{"domain":[-0.5,15.5],"reverse":true,"nice":false,"zero":false},"axis":{"title":"Neurons","values":[0,1,2,3,4,5,6,7,8,9,10,11,12,13,14,15],"tickSize":-4,"tickColor":"#000","titlePadding":8}}}},
{"mark":{"type":"tick","orient":"vertical","opacity":0},
"encoding":{"x":{"field":"t","type":"quantitative"},
"y":{"field":"n","type":"quantitative","axis":{"orient":"right","title":null,"values":[0,1,2,3,4,5,6,7,8,9,10,11,12,13,14,15],"tickSize":-4,"tickColor":"#000"}}}}],
"resolve":{"axis":{"y":"independent"}}},
{"width":567,"height":285,"title":"PB-FB-LAL - Output","data":{"name":"tr"},
"layer":[
{"mark":{"type":"tick","orient":"vertical","size":4.5,"thickness":1,"color":"#000"},
"encoding":{"x":{"field":"t","type":"quantitative","scale":{"domain":[-0.5,566.5],"nice":false,"zero":false},"axis":{"title":"Time (s)","ticks":false,"titlePadding":3}},
"y":{"field":"n","type":"quantitative","scale":{"domain":[-0.5,37.5],"reverse":true,"nice":false,"zero":false},"axis":{"title":"Neurons","values":[0,1,2,3,4,5,6,7,8,9,10,11,12,13,14,15,16,17,18,19,20,21,22,23,24,25,26,27,28,29,30,31,32,33,34,35,36,37],"tickSize":-4,"tickColor":"#000","titlePadding":8}}}},
{"mark":{"type":"tick","orient":"vertical","opacity":0},
"encoding":{"x":{"field":"t","type":"quantitative"},
"y":{"field":"n","type":"quantitative","axis":{"orient":"right","title":null,"values":[0,1,2,3,4,5,6,7,8,9,10,11,12,13,14,15,16,17,18,19,20,21,22,23,24,25,26,27,28,29,30,31,32,33,34,35,36,37],"tickSize":-4,"tickColor":"#000"}}}}],
"resolve":{"axis":{"y":"independent"}}},
{"width":567,"height":284,"title":"PB-EB-NO - Output","data":{"name":"bl"},
"layer":[
{"mark":{"type":"tick","orient":"vertical","size":10,"thickness":1,"color":"#000"},
"encoding":{"x":{"field":"t","type":"quantitative","scale":{"domain":[-0.5,566.5],"nice":false,"zero":false},"axis":{"title":"Time (s)","ticks":false,"titlePadding":3}},
"y":{"field":"n","type":"quantitative","scale":{"domain":[-0.5,15.5],"reverse":true,"nice":false,"zero":false},"axis":{"title":"Neurons","values":[0,1,2,3,4,5,6,7,8,9,10,11,12,13,14,15],"tickSize":-4,"tickColor":"#000","titlePadding":8}}}},
{"mark":{"type":"tick","orient":"vertical","opacity":0},
"encoding":{"x":{"field":"t","type":"quantitative"},
"y":{"field":"n","type":"quantitative","axis":{"orient":"right","title":null,"values":[0,1,2,3,4,5,6,7,8,9,10,11,12,13,14,15],"tickSize":-4,"tickColor":"#000"}}}}],
"resolve":{"axis":{"y":"independent"}}},
{"width":567,"height":284,"title":"EB-LAL-PB - Output","data":{"name":"br"},
"layer":[
{"mark":{"type":"tick","orient":"vertical","size":9.5,"thickness":1,"color":"#000"},
"encoding":{"x":{"field":"t","type":"quantitative","scale":{"domain":[-0.5,566.5],"nice":false,"zero":false},"axis":{"title":"Time (s)","ticks":false,"titlePadding":3}},
"y":{"field":"n","type":"quantitative","scale":{"domain":[-0.5,17.5],"reverse":true,"nice":false,"zero":false},"axis":{"title":"Neurons","values":[0,1,2,3,4,5,6,7,8,9,10,11,12,13,14,15,16,17],"tickSize":-4,"tickColor":"#000","titlePadding":8}}}},
{"mark":{"type":"tick","orient":"vertical","opacity":0},
"encoding":{"x":{"field":"t","type":"quantitative"},
"y":{"field":"n","type":"quantitative","axis":{"orient":"right","title":null,"values":[0,1,2,3,4,5,6,7,8,9,10,11,12,13,14,15,16,17],"tickSize":-4,"tickColor":"#000"}}}}],
"resolve":{"axis":{"y":"independent"}}}
]}
